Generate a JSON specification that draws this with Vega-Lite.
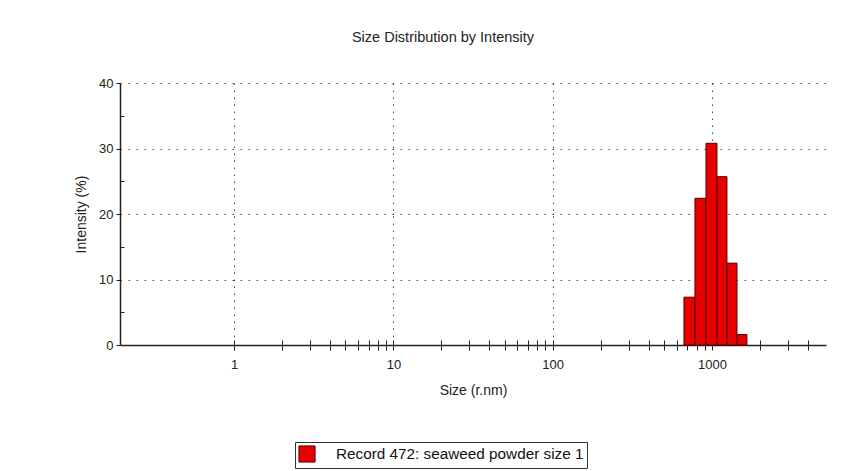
{
  "$schema": "https://vega.github.io/schema/vega-lite/v6.json",
  "autosize": "none",
  "width": 706,
  "height": 262,
  "padding": {"left": 120, "top": 83, "right": 40, "bottom": 126},
  "background": "white",
  "config": {
    "font": "Liberation Sans",
    "view": {"stroke": null},
    "axis": {"labelFont": "Liberation Sans", "titleFont": "Liberation Sans", "labelColor": "#222", "titleColor": "#222", "labelFontSize": 13, "titleFontSize": 14, "titleFontWeight": "normal", "domainColor": "#222", "tickColor": "#222"}
  },
  "title": {"text": "Size Distribution by Intensity", "font": "Liberation Sans", "fontSize": 14.5, "fontWeight": "normal", "color": "#222", "anchor": "middle", "dx": -30, "offset": 32},
  "data": {"values": [
    {"x0": 667, "x1": 782, "intensity": 7.3, "series": "Record 472: seaweed powder size 1"},
    {"x0": 782, "x1": 917, "intensity": 22.4, "series": "Record 472: seaweed powder size 1"},
    {"x0": 917, "x1": 1075, "intensity": 30.8, "series": "Record 472: seaweed powder size 1"},
    {"x0": 1075, "x1": 1242, "intensity": 25.7, "series": "Record 472: seaweed powder size 1"},
    {"x0": 1242, "x1": 1436, "intensity": 12.5, "series": "Record 472: seaweed powder size 1"},
    {"x0": 1436, "x1": 1658, "intensity": 1.6, "series": "Record 472: seaweed powder size 1"}
  ]},
  "resolve": {"axis": {"x": "independent", "y": "independent"}},
  "layer": [
    {
      "mark": {"type": "bar", "opacity": 0},
      "encoding": {
        "x": {"field": "x0", "type": "quantitative", "scale": {"type": "log", "domain": [0.192, 5200], "nice": false},
          "axis": {"orient": "bottom", "values": [1, 10, 100, 1000], "labels": false, "ticks": false, "domain": false, "title": null, "grid": true, "gridDash": [1.5, 5.5], "gridColor": "#444", "gridOpacity": 1}},
        "x2": {"field": "x1"},
        "y": {"field": "intensity", "type": "quantitative", "scale": {"domain": [0, 40], "nice": false},
          "axis": {"orient": "left", "values": [10, 20, 30, 40], "labels": false, "ticks": false, "domain": false, "title": null, "grid": true, "gridDash": [1.5, 6.5], "gridColor": "#444", "gridOpacity": 1}},
        "y2": {"datum": 0}
      }
    },
    {
      "mark": {"type": "bar", "opacity": 0},
      "encoding": {
        "x": {"field": "x0", "type": "quantitative",
          "axis": {"orient": "bottom", "values": [2,3,4,5,6,7,8,9,20,30,40,50,60,70,80,90,200,300,400,500,600,700,800,900,2000,3000,4000,1,10,100,1000], "labels": false, "tickSize": -5, "domain": false, "title": null, "grid": false}},
        "x2": {"field": "x1"},
        "y": {"field": "intensity", "type": "quantitative",
          "axis": {"orient": "left", "values": [5, 15, 25, 35], "labels": false, "tickSize": -4, "domain": false, "title": null, "grid": false}},
        "y2": {"datum": 0}
      }
    },
    {
      "mark": {"type": "bar", "fill": "#e60000", "stroke": "#5a0000", "strokeWidth": 1},
      "encoding": {
        "x": {"field": "x0", "type": "quantitative",
          "axis": {"orient": "bottom", "values": [2,3,4,5,6,7,8,9,20,30,40,50,60,70,80,90,200,300,400,500,600,700,800,900,2000,3000,4000,1,10,100,1000],
            "labelExpr": "indexof(['1','10','100','1000'], format(datum.value, 'd')) >= 0 ? format(datum.value, 'd') : ''",
            "tickSize": 5, "labelPadding": 8, "domainWidth": 1.5, "title": "Size (r.nm)", "titlePadding": 12, "grid": false, "labelFlush": false}},
        "x2": {"field": "x1"},
        "y": {"field": "intensity", "type": "quantitative",
          "axis": {"orient": "left", "values": [0, 10, 20, 30, 40], "tickSize": 4, "labelPadding": 3, "domainWidth": 1.5, "title": "Intensity (%)", "titlePadding": 10, "grid": false}},
        "y2": {"datum": 0},
        "color": {"field": "series", "type": "nominal", "scale": {"range": ["#e60000"]},
          "legend": {"title": null, "orient": "none", "legendX": 175, "legendY": 359, "direction": "horizontal", "symbolType": "square", "symbolSize": 260, "symbolStrokeColor": "#5a0000", "symbolStrokeWidth": 1, "symbolOpacity": 1, "labelFont": "Liberation Sans", "labelFontSize": 15.3, "labelColor": "#111", "strokeColor": "#333", "padding": 3, "fillColor": "white", "labelOffset": 20, "labelLimit": 400}}
      }
    }
  ]
}
